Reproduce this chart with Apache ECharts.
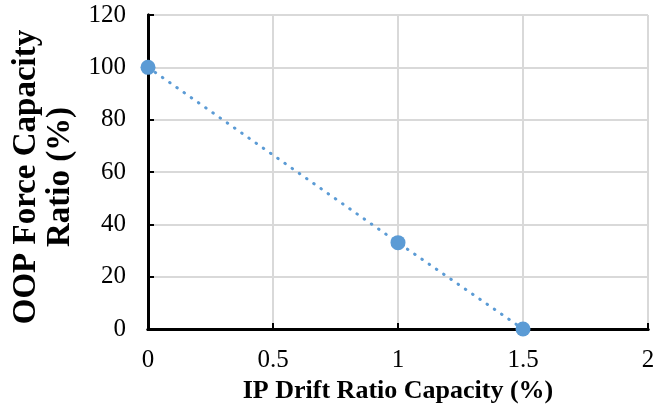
<!DOCTYPE html>
<html><head><meta charset="utf-8">
<script src="https://cdn.jsdelivr.net/npm/echarts@6/dist/echarts.min.js"></script>
<style>html,body{margin:0;padding:0;background:#fff}#c{width:654px;height:408px}</style>
</head><body><div id="c"></div>
<script>
const xValues = [0, 1, 1.5];
const yValues = [100, 33, 0];
const xTicks = [0, 0.5, 1, 1.5, 2];
const yTicks = [0, 20, 40, 60, 80, 100, 120];
const xTitle = 'IP Drift Ratio Capacity (%)';
const yTitle = 'OOP Force Capacity\nRatio (%)';

const font = 'Liberation Serif, Times New Roman, serif';
const chart = echarts.init(document.getElementById('c'), null, {renderer: 'canvas'});
const frame = {show: true, lineStyle: {color: '#000', width: 3}};
chart.setOption({
  animation: false,
  grid: {left: 148, right: 6, top: 15, bottom: 79, containLabel: false, outerBoundsMode: 'none'},
  xAxis: [{
    type: 'value', min: xTicks[0], max: xTicks[xTicks.length-1], interval: 0.5,
    name: xTitle, nameLocation: 'middle', nameGap: 45,
    nameTextStyle: {fontFamily: font, fontSize: 26, fontWeight: 'bold', color: '#000'},
    axisLine: {show: true, lineStyle: {color: '#000', width: 3}},
    axisTick: {show: true, inside: true, length: 6, lineStyle: {color: '#000', width: 2}},
    axisLabel: {fontFamily: font, fontSize: 25, color: '#000', margin: 19},
    splitLine: {show: true, lineStyle: {color: '#d9d9d9', width: 2}},
    z: 3
  }, {
    type: 'value', position: 'top', min: xTicks[0], max: xTicks[xTicks.length-1],
    axisLine: frame, axisTick: {show: false}, axisLabel: {show: false}, splitLine: {show: false}, z: 3
  }],
  yAxis: [{
    type: 'value', min: yTicks[0], max: yTicks[yTicks.length-1], interval: 20,
    name: yTitle, nameLocation: 'middle', nameGap: 71, nameRotate: 90,
    nameTextStyle: {fontFamily: font, fontSize: 33, fontWeight: 'bold', color: '#000', lineHeight: 34, padding: [0, 10, 0, 0]},
    axisLine: {show: true, lineStyle: {color: '#000', width: 3}},
    axisTick: {show: true, inside: true, length: 6, lineStyle: {color: '#000', width: 2}},
    axisLabel: {fontFamily: font, fontSize: 25, color: '#000', margin: 22},
    splitLine: {show: true, lineStyle: {color: '#d9d9d9', width: 2}},
    z: 3
  }, {
    type: 'value', position: 'right', min: yTicks[0], max: yTicks[yTicks.length-1],
    axisLine: frame, axisTick: {show: false}, axisLabel: {show: false}, splitLine: {show: false}, z: 3
  }],
  series: [{
    type: 'line',
    data: xValues.map((x, i) => [x, yValues[i]]),
    symbol: 'circle', symbolSize: 15,
    itemStyle: {color: '#5B9BD5'},
    lineStyle: {color: '#5B9BD5', width: 3, type: [0.5, 8.3], cap: 'round'},
    z: 5
  }]
});
</script></body></html>
